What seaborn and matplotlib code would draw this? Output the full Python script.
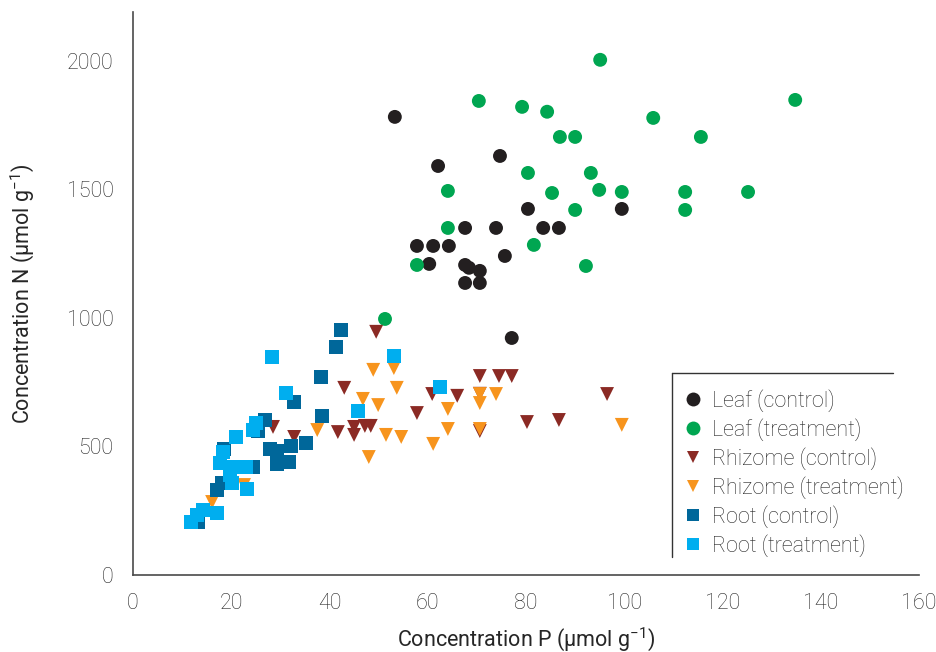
import numpy as np
import pandas as pd
import matplotlib
matplotlib.use("Agg")
import matplotlib.pyplot as plt
from matplotlib.lines import Line2D
import seaborn as sns

# ---- data ----
leaf_ctrl_P = [53.3, 62.1, 74.7, 57.8, 61.1, 64.3, 67.6, 73.9, 80.4, 83.5, 86.7,
               60.3, 67.6, 68.4, 70.6, 75.7, 67.6, 70.6, 77.1, 99.5]
leaf_ctrl_N = [1782, 1591, 1630, 1280, 1280, 1280, 1350, 1350, 1424, 1350, 1350,
               1210, 1206, 1195, 1183, 1241, 1136, 1136, 922, 1424]

leaf_trt_P = [95.1, 134.8, 70.4, 79.2, 84.3, 105.9, 86.9, 90.0, 115.6, 93.2, 80.4, 64.1,
              94.9, 99.5, 112.4, 125.2, 85.3, 90.0, 112.4, 64.1, 81.6, 92.2, 57.8, 51.3]
leaf_trt_N = [2004, 1848, 1844, 1821, 1802, 1778, 1704, 1704, 1704, 1564, 1564, 1494,
              1498, 1490, 1490, 1490, 1486, 1420, 1420, 1350, 1284, 1202, 1206, 996]

rhiz_ctrl_P = [49.5, 43.0, 28.5, 32.8, 41.7, 45.0, 45.0, 47.2, 48.4, 57.8, 60.9,
               66.0, 70.6, 74.5, 77.1, 70.6, 80.2, 86.7, 96.5, 70.6]
rhiz_ctrl_N = [946, 728, 576, 537, 556, 576, 545, 580, 580, 630, 704,
               697, 774, 774, 774, 560, 595, 603, 704, 705]

rhiz_trt_P = [16.1, 37.5, 46.8, 49.9, 48.9, 53.1, 53.7, 51.5, 54.6, 48.0, 45.8, 22.6,
              61.1, 64.1, 64.1, 70.6, 70.6, 70.6, 73.9, 99.5]
rhiz_trt_N = [284, 564, 685, 661, 798, 805, 728, 545, 537, 459, 638, 350,
              510, 646, 568, 704, 669, 568, 704, 584]

root_ctrl_P = [42.3, 41.3, 38.3, 32.8, 38.5, 26.9, 25.4, 35.2, 32.2, 27.9, 29.3, 29.3,
               31.8, 24.4, 18.5, 18.1, 17.1, 13.2]
root_ctrl_N = [953, 887, 770, 673, 619, 603, 560, 514, 502, 490, 482, 432,
               440, 420, 490, 358, 331, 206]

root_trt_P = [28.3, 31.1, 53.1, 45.8, 25.0, 24.4, 21.0, 18.3, 17.7, 20.4, 23.0, 19.7,
              20.2, 23.2, 17.1, 14.2, 13.0, 11.8, 62.5]
root_trt_N = [848, 708, 852, 638, 591, 564, 537, 478, 436, 420, 420, 389,
              358, 335, 241, 253, 233, 206, 731]

groups = ["Leaf (control)", "Leaf (treatment)", "Rhizome (control)",
          "Rhizome (treatment)", "Root (control)", "Root (treatment)"]
series = [(leaf_ctrl_P, leaf_ctrl_N), (leaf_trt_P, leaf_trt_N),
          (rhiz_ctrl_P, rhiz_ctrl_N), (rhiz_trt_P, rhiz_trt_N),
          (root_ctrl_P, root_ctrl_N), (root_trt_P, root_trt_N)]
x_ticks = [0, 20, 40, 60, 80, 100, 120, 140, 160]
y_ticks = [0, 500, 1000, 1500, 2000]

frames = [pd.DataFrame({"P": p, "N": n, "group": g}) for g, (p, n) in zip(groups, series)]
df = pd.concat(frames, ignore_index=True)

palette = {"Leaf (control)": "#231f20", "Leaf (treatment)": "#00a651",
           "Rhizome (control)": "#8b2a24", "Rhizome (treatment)": "#f7941d",
           "Root (control)": "#00679a", "Root (treatment)": "#00aeef"}
markers = {"Leaf (control)": "o", "Leaf (treatment)": "o",
           "Rhizome (control)": "v", "Rhizome (treatment)": "v",
           "Root (control)": "s", "Root (treatment)": "s"}
leg_ms = {"o": 10, "v": 9, "s": 8.5}

sns.set_style("white")
plt.rcParams["font.family"] = ["Roboto", "DejaVu Sans"]
plt.rcParams["font.weight"] = "light"
plt.rcParams["mathtext.default"] = "regular"
txt = "#262626"
fs = 15.5

fig = plt.figure(figsize=(9.36, 6.52), dpi=100)
ax = fig.add_axes([133/936, 1-575/652, (919-133)/936, (575-12)/652])

sns.scatterplot(data=df, x="P", y="N", hue="group", style="group",
                hue_order=groups, style_order=groups, palette=palette,
                markers=markers, s=100, linewidth=0, ax=ax, legend=False, zorder=3)

ax.set_xlim(0, 160)
ax.set_ylim(0, 2190)
ax.set_xticks(x_ticks)
ax.set_yticks(y_ticks)
for s in ["top", "right"]:
    ax.spines[s].set_visible(False)
for s in ["left", "bottom"]:
    ax.spines[s].set_color("#4a4a4a")
    ax.spines[s].set_linewidth(1.2)
ax.tick_params(axis="both", direction="out", length=6, width=1, color="#4a4a4a",
               labelsize=fs, labelcolor=txt)
ax.tick_params(axis="x", pad=7)
ax.tick_params(axis="y", pad=8)
ax.set_xlabel("Concentration P (µmol g$^{-1}$)", fontsize=fs, color=txt, labelpad=8)
ax.set_ylabel("Concentration N (µmol g$^{-1}$)", fontsize=fs, color=txt, labelpad=22)

handles = [Line2D([], [], linestyle="none", marker=markers[g], color=palette[g],
                  markersize=leg_ms[markers[g]], markeredgewidth=0) for g in groups]
leg = fig.legend(handles, groups, loc="upper left",
                 bbox_to_anchor=(684.5/936, 1-389/652), frameon=False,
                 fontsize=fs, labelspacing=0.29, handletextpad=0.5,
                 handlelength=0.8, borderaxespad=0, borderpad=0)
for t in leg.get_texts():
    t.set_color(txt)

# partial legend frame (top and left edges only)
fig.add_artist(Line2D([672/936, 893/936], [1-373/652, 1-373/652],
                      transform=fig.transFigure, color="#333333", lw=1))
fig.add_artist(Line2D([672/936, 672/936], [1-373/652, 1-557/652],
                      transform=fig.transFigure, color="#333333", lw=1))

fig.savefig("out.png", dpi=100)
